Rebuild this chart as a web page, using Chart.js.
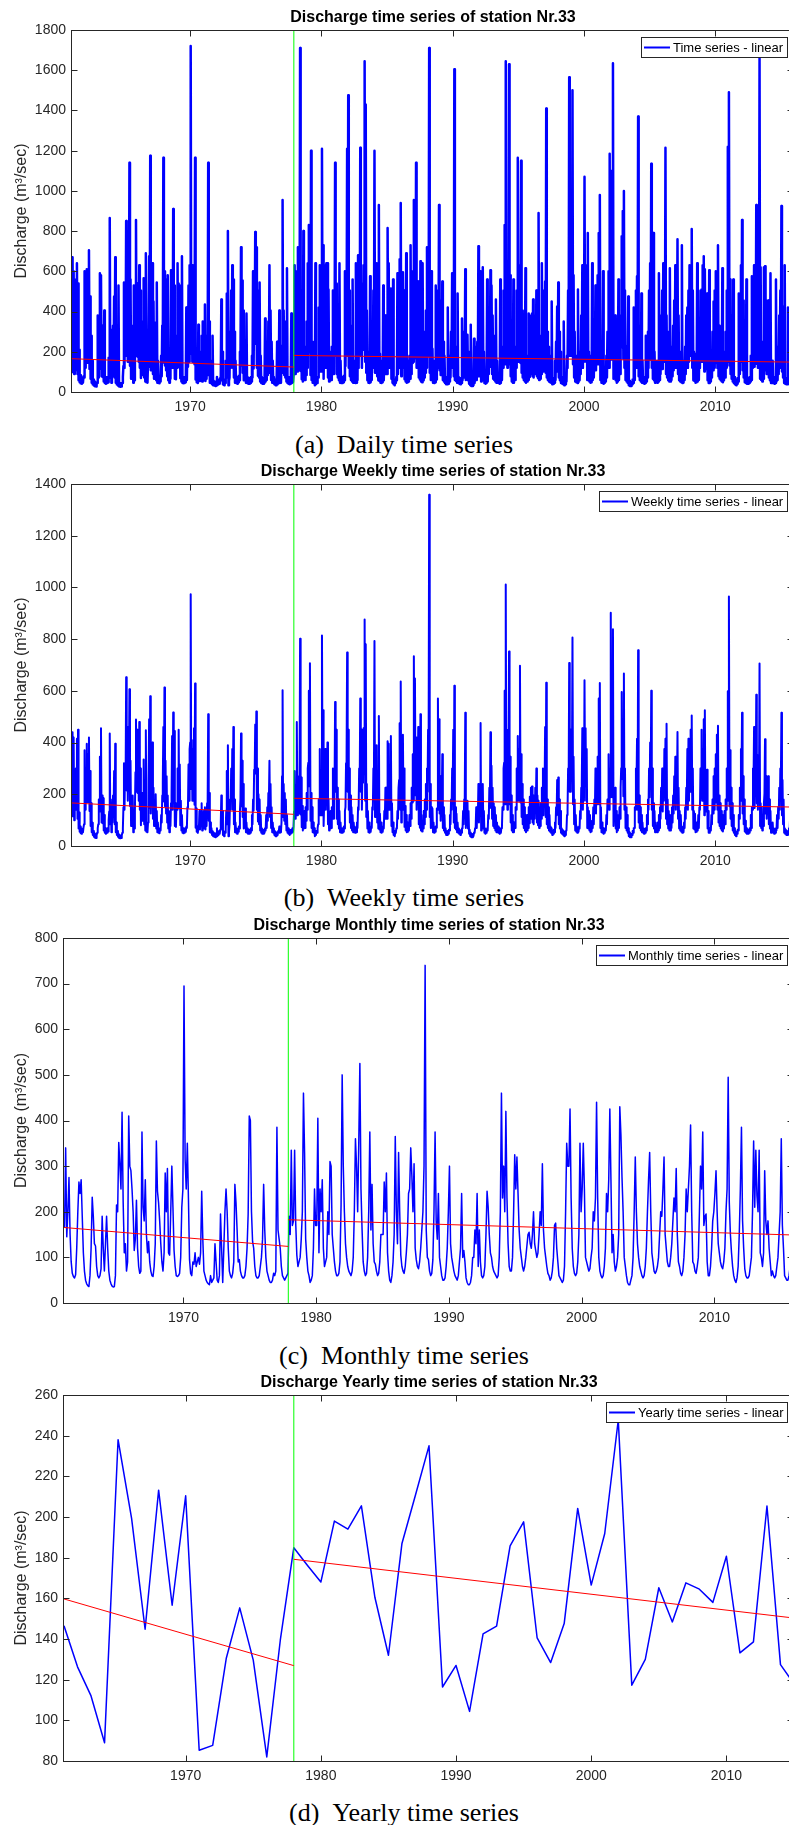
<!DOCTYPE html>
<html lang="en">
<head>
<meta charset="UTF-8">
<title>Discharge time series of station Nr.33</title>
<script src="https://cdn.jsdelivr.net/npm/chart.js@4.4.1/dist/chart.umd.min.js"></script>
<style>
  html, body { margin: 0; padding: 0; background: #fff; }
  body { width: 789px; height: 1825px; overflow: hidden; position: relative; }
  canvas { position: absolute; left: 0; }
  .caption {
    position: absolute; left: 0; width: 808px; text-align: center;
    font-family: "Liberation Serif", "DejaVu Serif", serif; font-size: 26px; line-height: 30px; color: #000;
  }
</style>
</head>
<body>
<canvas id="daily" width="800" height="420" style="top:0px;width:800px;height:420px"></canvas>
<div class="caption" style="top:430px">(a)&ensp;Daily time series</div>
<canvas id="weekly" width="800" height="420" style="top:454px;width:800px;height:420px"></canvas>
<div class="caption" style="top:883px">(b)&ensp;Weekly time series</div>
<canvas id="monthly" width="800" height="423" style="top:908px;width:800px;height:423px"></canvas>
<div class="caption" style="top:1341px">(c)&ensp;Monthly time series</div>
<canvas id="yearly" width="800" height="424" style="top:1365px;width:800px;height:424px"></canvas>
<div class="caption" style="top:1798px">(d)&ensp;Yearly time series</div>

<script>
// values (m3/sec); monthly arrays run Jan 1961 .. Dec 2015, one row per year
const startYear = 1961;
const breakYear = 1977.9;
const decadeTicks = [1970, 1980, 1990, 2000, 2010];

const years = [1961, 1962, 1963, 1964, 1965, 1966, 1967, 1968, 1969, 1970,
  1971, 1972, 1973, 1974, 1975, 1976, 1977, 1978, 1979, 1980,
  1981, 1982, 1983, 1984, 1985, 1986, 1987, 1988, 1989, 1990,
  1991, 1992, 1993, 1994, 1995, 1996, 1997, 1998, 1999, 2000,
  2001, 2002, 2003, 2004, 2005, 2006, 2007, 2008, 2009, 2010,
  2011, 2012, 2013, 2014, 2015];

const yearlyQ = [146.5, 126.3, 112, 89, 238, 199.3, 144.8, 213.2, 156.6, 210.4,
  85.3, 87.7, 130.4, 155.3, 129.6, 82, 139.4, 184.9, 176.3, 168,
  198, 194, 205.5, 160.4, 132, 187, 210.8, 235, 116.4, 127,
  104.4, 142.5, 146.3, 185.8, 197.6, 140.5, 128.4, 147.6, 204.2, 166.5,
  191.9, 247.7, 117.3, 130, 165.2, 148.4, 167.6, 164.5, 158, 180.7,
  133.2, 138.6, 205.4, 127.4, 118];

const monthlyQ = [
  165, 340, 145, 200, 275, 150, 90, 65, 58, 55, 62, 120,
  200, 265, 240, 270, 190, 110, 70, 50, 42, 38, 36, 60,
  120, 232, 190, 130, 125, 80, 60, 55, 60, 75, 190, 120,
  70, 130, 190, 120, 70, 50, 42, 37, 35, 36, 60, 215,
  200, 352, 305, 250, 418, 220, 110, 130, 70, 90, 410, 300,
  290, 250, 200, 115, 140, 225, 120, 80, 65, 70, 375, 210,
  180, 270, 150, 110, 135, 90, 70, 60, 58, 80, 130, 355,
  245, 220, 180, 130, 90, 70, 110, 285, 200, 295, 110, 105,
  200, 300, 210, 115, 80, 60, 58, 60, 65, 100, 210, 250,
  695, 315, 250, 350, 230, 95, 65, 60, 90, 85, 110, 80,
  90, 100, 85, 110, 245, 140, 70, 60, 50, 45, 42, 40,
  60, 45, 50, 55, 130, 90, 50, 45, 60, 195, 120, 45,
  120, 200, 250, 200, 120, 70, 60, 55, 65, 90, 260, 220,
  160, 90, 95, 70, 60, 55, 55, 60, 80, 120, 195, 410,
  400, 200, 135, 120, 80, 60, 55, 55, 60, 80, 100, 140,
  260, 160, 100, 70, 60, 50, 45, 45, 50, 65, 60, 70,
  385, 160, 140, 120, 80, 60, 55, 50, 55, 60, 65, 190,
  150, 335, 170, 180, 335, 175, 105, 80, 90, 100, 140, 200,
  460, 330, 140, 100, 70, 60, 45, 50, 60, 120, 250, 170,
  170, 405, 110, 250, 200, 270, 120, 80, 90, 100, 200, 150,
  310, 300, 150, 120, 90, 70, 60, 60, 65, 90, 215, 500,
  300, 200, 130, 100, 80, 70, 65, 60, 70, 100, 200, 360,
  300, 200, 350, 525, 250, 160, 90, 70, 60, 65, 100, 200,
  375, 160, 260, 130, 90, 85, 70, 60, 65, 90, 150, 150,
  150, 265, 200, 285, 110, 70, 50, 45, 60, 90, 150, 365,
  200, 130, 330, 200, 105, 80, 70, 65, 80, 110, 150, 240,
  250, 340, 280, 200, 305, 120, 95, 80, 75, 90, 120, 160,
  200, 300, 740, 160, 100, 95, 70, 60, 65, 95, 200, 375,
  180, 140, 240, 100, 80, 60, 50, 50, 55, 80, 120, 200,
  300, 130, 100, 85, 70, 60, 55, 50, 60, 90, 120, 240,
  100, 115, 90, 55, 45, 40, 40, 45, 60, 100, 100, 160,
  130, 240, 80, 160, 90, 60, 55, 60, 80, 150, 245, 210,
  150, 110, 100, 80, 70, 65, 60, 55, 60, 100, 200, 460,
  230, 300, 200, 420, 230, 130, 80, 70, 70, 100, 200, 325,
  250, 320, 240, 160, 120, 100, 80, 70, 80, 100, 125, 150,
  155, 130, 120, 150, 200, 130, 115, 100, 110, 150, 200, 170,
  305, 160, 120, 100, 80, 65, 60, 50, 55, 70, 100, 170,
  175, 120, 90, 60, 55, 50, 45, 50, 80, 200, 350, 300,
  300, 425, 230, 120, 80, 65, 60, 65, 90, 150, 350, 200,
  250, 350, 250, 100, 90, 80, 70, 75, 100, 120, 200, 180,
  230, 440, 230, 100, 70, 60, 55, 60, 80, 120, 240, 200,
  270, 425, 270, 110, 150, 90, 70, 80, 100, 150, 430, 370,
  275, 200, 100, 80, 60, 45, 40, 40, 50, 60, 100, 200,
  320, 200, 130, 100, 80, 70, 60, 55, 60, 80, 120, 200,
  270, 330, 200, 110, 90, 70, 65, 70, 80, 100, 150, 200,
  190, 250, 320, 150, 120, 90, 80, 80, 100, 130, 180, 230,
  200, 295, 150, 90, 80, 65, 60, 70, 100, 150, 250, 200,
  250, 300, 390, 200, 90, 85, 70, 65, 80, 100, 200, 300,
  250, 375, 170, 190, 195, 90, 60, 60, 80, 120, 180, 200,
  240, 290, 200, 130, 110, 90, 80, 75, 90, 120, 200, 250,
  495, 220, 150, 110, 80, 60, 50, 45, 55, 80, 150, 250,
  385, 180, 120, 75, 60, 55, 55, 60, 80, 100, 200, 355,
  210, 335, 235, 200, 335, 110, 100, 80, 110, 290, 180, 150,
  180, 120, 90, 60, 70, 60, 55, 60, 80, 100, 150, 200,
  360, 170, 120, 60, 55, 50, 50, 60, 80, 100, 150, 200
];

// highest and lowest daily discharge within each month
const dailyHigh = [
  670, 600, 365, 560, 640, 540, 210, 85, 72, 68, 78, 600,
  505, 610, 600, 705, 475, 280, 155, 62, 52, 47, 45, 380,
  310, 590, 580, 330, 315, 405, 75, 69, 75, 170, 865, 310,
  155, 330, 475, 670, 155, 62, 530, 46, 44, 45, 75, 545,
  505, 850, 550, 800, 1140, 560, 280, 330, 530, 205, 855, 540,
  520, 630, 505, 295, 350, 565, 300, 690, 81, 155, 675, 1175,
  455, 640, 450, 280, 345, 545, 155, 75, 72, 180, 330, 1165,
  600, 560, 455, 580, 200, 155, 605, 510, 910, 530, 280, 265,
  640, 540, 530, 295, 675, 75, 72, 75, 420, 250, 530, 630,
  1720, 570, 630, 630, 1165, 215, 81, 335, 200, 190, 280, 350,
  200, 435, 190, 280, 1140, 350, 155, 75, 280, 56, 52, 50,
  75, 56, 62, 69, 460, 200, 62, 56, 155, 490, 800, 56,
  300, 505, 630, 560, 300, 155, 75, 69, 81, 200, 720, 555,
  405, 200, 215, 390, 75, 69, 69, 75, 180, 600, 490, 795,
  720, 505, 345, 545, 180, 75, 69, 69, 365, 180, 250, 350,
  630, 405, 250, 155, 75, 62, 56, 250, 62, 405, 75, 155,
  955, 405, 350, 300, 615, 75, 69, 62, 390, 75, 81, 630,
  380, 600, 720, 455, 1710, 440, 265, 800, 200, 225, 350, 640,
  830, 595, 1200, 250, 155, 75, 640, 62, 75, 420, 630, 425,
  1210, 730, 280, 630, 640, 640, 510, 180, 200, 225, 505, 380,
  1140, 540, 380, 300, 640, 155, 75, 75, 81, 600, 540, 1210,
  1475, 505, 330, 225, 560, 155, 81, 640, 155, 680, 505, 1215,
  540, 505, 630, 1645, 1430, 405, 200, 155, 575, 81, 225, 505,
  1200, 405, 640, 330, 930, 190, 155, 75, 530, 200, 380, 380,
  815, 640, 505, 515, 280, 560, 62, 56, 75, 590, 380, 660,
  940, 330, 595, 505, 265, 690, 155, 81, 180, 730, 380, 600,
  955, 610, 1140, 505, 550, 300, 650, 180, 640, 200, 300, 405,
  720, 540, 1710, 405, 600, 215, 155, 75, 530, 215, 505, 930,
  455, 350, 550, 250, 180, 75, 62, 420, 69, 180, 300, 590,
  540, 1605, 225, 190, 490, 75, 69, 62, 365, 200, 300, 610,
  225, 285, 200, 69, 335, 50, 50, 265, 75, 225, 250, 725,
  330, 600, 200, 620, 200, 75, 69, 560, 180, 380, 605, 530,
  380, 280, 225, 460, 155, 81, 75, 560, 75, 225, 505, 830,
  1645, 540, 505, 1630, 580, 330, 180, 560, 155, 225, 505, 1165,
  630, 575, 1150, 405, 300, 250, 615, 155, 180, 390, 315, 380,
  390, 460, 300, 380, 505, 330, 890, 250, 280, 640, 505, 425,
  550, 1410, 300, 225, 180, 81, 450, 62, 69, 155, 250, 425,
  545, 300, 200, 75, 69, 350, 56, 62, 180, 505, 1565, 790,
  600, 1500, 580, 300, 180, 81, 510, 81, 200, 380, 630, 505,
  1070, 630, 630, 790, 200, 180, 155, 640, 225, 300, 530, 455,
  580, 790, 980, 225, 155, 600, 69, 75, 180, 300, 600, 1185,
  1100, 765, 1635, 280, 380, 200, 155, 560, 225, 380, 775, 900,
  1000, 505, 225, 180, 475, 56, 50, 50, 62, 420, 225, 505,
  575, 1370, 330, 225, 490, 155, 75, 69, 280, 180, 300, 505,
  640, 1135, 505, 790, 200, 155, 81, 155, 590, 225, 380, 505,
  640, 630, 1215, 380, 300, 200, 615, 180, 225, 330, 455, 630,
  505, 760, 380, 200, 180, 730, 75, 155, 225, 380, 420, 505,
  630, 540, 810, 505, 200, 190, 155, 640, 180, 225, 505, 510,
  630, 675, 610, 475, 490, 200, 605, 75, 180, 300, 450, 505,
  600, 520, 730, 330, 280, 200, 615, 170, 200, 300, 505, 1220,
  1490, 560, 380, 280, 560, 75, 62, 56, 69, 490, 380, 630,
  855, 455, 300, 170, 560, 69, 69, 75, 180, 575, 505, 630,
  530, 930, 595, 505, 1660, 620, 250, 180, 620, 625, 455, 380,
  455, 300, 590, 75, 155, 75, 69, 560, 180, 225, 380, 505,
  925, 425, 300, 630, 69, 62, 420, 75, 180, 225, 380, 505
];

const dailyLow = [
  100, 160, 90, 110, 140, 90, 58, 48, 43, 41, 46, 72,
  120, 160, 145, 160, 115, 66, 46, 38, 32, 29, 27, 45,
  72, 140, 115, 78, 75, 52, 45, 41, 45, 49, 114, 72,
  46, 78, 114, 72, 46, 38, 32, 28, 26, 27, 45, 129,
  120, 210, 180, 150, 250, 130, 66, 78, 46, 58, 245, 180,
  175, 150, 120, 70, 84, 135, 72, 52, 49, 46, 225, 126,
  108, 162, 90, 66, 81, 58, 46, 45, 43, 52, 78, 213,
  147, 132, 108, 78, 58, 46, 66, 171, 120, 177, 66, 63,
  120, 180, 126, 69, 52, 45, 43, 45, 49, 60, 126, 150,
  250, 190, 150, 210, 138, 62, 49, 45, 58, 55, 66, 52,
  58, 60, 55, 66, 147, 84, 46, 45, 38, 34, 32, 30,
  45, 34, 38, 41, 78, 58, 38, 34, 45, 117, 72, 34,
  72, 120, 150, 120, 72, 46, 45, 41, 49, 58, 156, 132,
  96, 58, 62, 46, 45, 41, 41, 45, 52, 72, 117, 246,
  240, 120, 81, 72, 52, 45, 41, 41, 45, 52, 60, 84,
  156, 96, 60, 46, 45, 38, 34, 34, 38, 49, 45, 46,
  230, 96, 84, 72, 52, 45, 41, 38, 41, 45, 49, 114,
  90, 200, 102, 108, 200, 105, 63, 52, 58, 60, 84, 120,
  276, 198, 84, 60, 46, 45, 34, 38, 45, 72, 150, 102,
  102, 243, 66, 150, 120, 162, 72, 52, 58, 60, 120, 90,
  186, 180, 90, 72, 58, 46, 45, 45, 49, 58, 129, 300,
  180, 120, 78, 60, 52, 46, 49, 45, 46, 60, 120, 216,
  180, 120, 210, 315, 150, 96, 58, 46, 45, 49, 60, 120,
  225, 96, 156, 78, 58, 55, 46, 45, 49, 58, 90, 90,
  90, 159, 120, 171, 66, 46, 38, 34, 45, 58, 90, 219,
  120, 78, 198, 120, 63, 52, 46, 49, 52, 66, 90, 144,
  150, 204, 168, 120, 183, 72, 62, 52, 49, 58, 72, 96,
  120, 180, 300, 96, 60, 62, 46, 45, 49, 62, 120, 225,
  108, 84, 144, 60, 52, 45, 38, 38, 41, 52, 72, 120,
  180, 78, 60, 55, 46, 45, 41, 38, 45, 58, 72, 144,
  60, 69, 58, 41, 34, 30, 30, 34, 45, 60, 60, 96,
  78, 144, 52, 96, 58, 45, 41, 45, 52, 90, 147, 126,
  90, 66, 60, 52, 46, 49, 45, 41, 45, 60, 120, 276,
  138, 180, 120, 252, 138, 78, 52, 46, 46, 60, 120, 195,
  150, 192, 144, 96, 72, 60, 52, 46, 52, 60, 75, 90,
  93, 78, 72, 90, 120, 78, 69, 60, 66, 90, 120, 102,
  183, 96, 72, 60, 52, 49, 45, 38, 41, 46, 60, 102,
  105, 72, 58, 45, 41, 38, 34, 38, 52, 120, 210, 180,
  180, 255, 138, 72, 52, 49, 45, 49, 58, 90, 210, 120,
  150, 210, 150, 60, 58, 52, 46, 49, 60, 72, 120, 108,
  138, 264, 138, 60, 46, 45, 41, 45, 52, 72, 144, 120,
  162, 255, 162, 66, 90, 58, 46, 52, 60, 90, 258, 222,
  165, 120, 60, 52, 45, 34, 30, 30, 38, 45, 60, 120,
  192, 120, 78, 60, 52, 46, 45, 41, 45, 52, 72, 120,
  162, 198, 120, 66, 58, 46, 49, 46, 52, 60, 90, 120,
  114, 150, 192, 90, 72, 58, 52, 52, 60, 78, 108, 138,
  120, 177, 90, 58, 52, 49, 45, 46, 60, 90, 150, 120,
  150, 180, 234, 120, 58, 55, 46, 49, 52, 60, 120, 180,
  150, 225, 102, 114, 117, 58, 45, 45, 52, 72, 108, 120,
  144, 174, 120, 78, 66, 58, 52, 49, 58, 72, 120, 150,
  200, 132, 90, 66, 52, 45, 38, 34, 41, 52, 90, 150,
  231, 108, 72, 49, 45, 41, 41, 45, 52, 60, 120, 213,
  126, 201, 141, 120, 201, 66, 60, 52, 66, 174, 108, 90,
  108, 72, 58, 45, 46, 45, 41, 45, 52, 60, 90, 120,
  216, 102, 72, 45, 41, 38, 38, 45, 52, 60, 90, 120
];

// highest and lowest weekly mean within each month
const weeklyHigh = [
  440, 420, 220, 300, 415, 450, 130, 75, 67, 63, 71, 370,
  300, 395, 355, 420, 290, 165, 90, 58, 48, 44, 41, 69,
  180, 345, 455, 195, 185, 120, 69, 63, 69, 98, 435, 180,
  91, 195, 290, 395, 91, 58, 48, 43, 40, 41, 69, 320,
  300, 653, 460, 375, 606, 330, 165, 195, 91, 135, 489, 450,
  430, 480, 300, 175, 205, 335, 180, 448, 75, 91, 490, 579,
  270, 400, 225, 165, 200, 135, 91, 69, 67, 120, 195, 460,
  613, 330, 270, 195, 135, 91, 165, 425, 516, 445, 165, 155,
  300, 450, 315, 175, 120, 69, 67, 69, 75, 150, 315, 375,
  974, 410, 375, 455, 628, 145, 75, 69, 135, 125, 165, 120,
  135, 150, 125, 165, 510, 205, 91, 69, 58, 52, 48, 46,
  69, 52, 58, 63, 195, 135, 58, 52, 69, 290, 390, 52,
  180, 300, 375, 460, 180, 91, 69, 63, 75, 135, 435, 330,
  240, 135, 145, 91, 69, 63, 63, 69, 120, 180, 295, 470,
  520, 300, 200, 180, 120, 69, 63, 63, 69, 120, 150, 205,
  330, 240, 150, 91, 69, 58, 52, 52, 58, 75, 69, 91,
  602, 240, 205, 180, 120, 69, 63, 58, 63, 69, 75, 290,
  225, 480, 255, 270, 802, 265, 155, 120, 135, 150, 205, 300,
  600, 707, 205, 150, 91, 69, 52, 58, 69, 180, 375, 255,
  814, 525, 165, 375, 300, 400, 180, 120, 135, 150, 300, 225,
  557, 450, 225, 180, 135, 91, 69, 69, 75, 135, 320, 748,
  450, 300, 195, 150, 120, 91, 75, 69, 91, 150, 300, 570,
  450, 300, 455, 876, 780, 240, 135, 91, 69, 75, 150, 300,
  793, 240, 390, 195, 503, 125, 91, 69, 75, 135, 225, 225,
  405, 395, 300, 425, 165, 91, 58, 52, 69, 135, 225, 475,
  636, 195, 430, 300, 155, 120, 91, 75, 120, 165, 225, 355,
  734, 648, 420, 300, 460, 180, 510, 120, 98, 135, 180, 240,
  300, 450, 1358, 240, 150, 145, 91, 69, 75, 145, 570, 490,
  270, 205, 355, 150, 120, 69, 58, 58, 63, 120, 180, 300,
  450, 620, 150, 125, 91, 69, 63, 58, 69, 135, 180, 515,
  150, 175, 135, 63, 52, 46, 46, 52, 69, 150, 150, 240,
  195, 476, 120, 240, 135, 69, 63, 69, 120, 225, 440, 310,
  225, 165, 150, 120, 91, 75, 69, 63, 69, 150, 300, 600,
  1011, 450, 300, 752, 345, 195, 120, 91, 91, 150, 300, 425,
  375, 697, 355, 240, 180, 150, 120, 91, 120, 150, 190, 225,
  230, 195, 180, 225, 300, 195, 175, 150, 165, 225, 300, 255,
  460, 631, 180, 150, 120, 75, 69, 58, 63, 91, 150, 255,
  265, 180, 135, 69, 63, 58, 52, 58, 120, 300, 708, 450,
  450, 806, 345, 180, 120, 75, 69, 75, 135, 225, 455, 300,
  641, 455, 375, 150, 135, 120, 91, 98, 150, 180, 300, 270,
  345, 570, 630, 150, 91, 69, 63, 69, 120, 180, 355, 300,
  902, 550, 838, 165, 225, 135, 91, 120, 150, 225, 596, 480,
  667, 300, 150, 120, 69, 52, 46, 46, 58, 69, 150, 300,
  415, 757, 195, 150, 120, 91, 69, 63, 69, 120, 180, 300,
  400, 600, 300, 165, 135, 91, 75, 91, 120, 150, 225, 300,
  280, 375, 415, 473, 180, 135, 120, 120, 150, 195, 270, 345,
  300, 441, 225, 135, 120, 75, 69, 91, 150, 225, 375, 415,
  375, 450, 505, 300, 135, 125, 91, 75, 120, 150, 300, 450,
  375, 490, 525, 280, 295, 135, 69, 69, 120, 180, 270, 300,
  355, 430, 465, 195, 165, 135, 120, 98, 135, 180, 300, 598,
  965, 370, 225, 165, 120, 69, 58, 52, 63, 120, 225, 375,
  515, 270, 180, 98, 69, 63, 63, 69, 120, 150, 300, 460,
  315, 585, 350, 300, 706, 165, 150, 120, 165, 413, 270, 225,
  270, 180, 135, 69, 91, 69, 63, 69, 120, 150, 225, 300,
  515, 255, 180, 69, 63, 58, 58, 69, 120, 150, 225, 300
];

const weeklyLow = [
  115, 220, 100, 140, 190, 105, 68, 55, 49, 47, 53, 84,
  140, 185, 170, 190, 135, 77, 53, 43, 36, 32, 31, 51,
  84, 162, 133, 91, 88, 60, 51, 47, 51, 56, 133, 84,
  53, 91, 133, 84, 53, 43, 36, 31, 30, 31, 51, 150,
  140, 245, 215, 175, 290, 155, 77, 90, 53, 68, 285, 210,
  205, 175, 140, 80, 98, 158, 84, 60, 55, 53, 260, 147,
  126, 189, 105, 77, 95, 68, 53, 51, 49, 60, 91, 250,
  172, 154, 126, 91, 68, 53, 77, 200, 140, 205, 77, 74,
  140, 210, 147, 80, 60, 51, 49, 51, 55, 70, 147, 175,
  400, 220, 175, 245, 160, 71, 55, 51, 68, 64, 77, 60,
  68, 75, 64, 77, 172, 98, 53, 51, 43, 38, 36, 34,
  51, 38, 43, 47, 91, 68, 43, 38, 51, 137, 84, 38,
  84, 140, 175, 140, 84, 53, 51, 47, 55, 68, 182, 154,
  112, 68, 71, 53, 51, 47, 47, 51, 60, 84, 137, 287,
  280, 140, 95, 84, 60, 51, 47, 47, 51, 60, 70, 98,
  182, 112, 70, 53, 51, 43, 38, 38, 43, 55, 51, 53,
  270, 112, 98, 84, 60, 51, 47, 43, 47, 51, 55, 133,
  105, 235, 119, 126, 235, 122, 73, 60, 68, 70, 98, 140,
  322, 231, 98, 70, 53, 51, 38, 43, 51, 84, 175, 119,
  119, 283, 77, 175, 140, 189, 84, 60, 68, 70, 140, 105,
  217, 210, 105, 84, 68, 53, 51, 51, 55, 68, 150, 350,
  210, 140, 91, 70, 60, 53, 55, 51, 53, 70, 140, 252,
  210, 140, 245, 367, 175, 112, 68, 53, 51, 55, 70, 140,
  262, 112, 182, 91, 68, 64, 53, 51, 55, 68, 105, 105,
  105, 185, 140, 200, 77, 53, 43, 38, 51, 68, 105, 255,
  140, 91, 231, 140, 74, 60, 53, 55, 60, 77, 105, 168,
  175, 238, 196, 140, 213, 84, 71, 60, 56, 68, 84, 112,
  140, 210, 400, 112, 70, 71, 53, 51, 55, 71, 140, 262,
  126, 98, 168, 70, 60, 51, 43, 43, 47, 60, 84, 140,
  210, 91, 70, 64, 53, 51, 47, 43, 51, 68, 84, 168,
  70, 80, 68, 47, 38, 34, 34, 38, 51, 70, 70, 112,
  91, 168, 60, 112, 68, 51, 47, 51, 60, 105, 172, 147,
  105, 77, 70, 60, 53, 55, 51, 47, 51, 70, 140, 322,
  161, 210, 140, 294, 161, 91, 60, 53, 53, 70, 140, 228,
  175, 224, 168, 112, 84, 70, 60, 53, 60, 70, 88, 105,
  108, 91, 84, 105, 140, 91, 80, 70, 77, 105, 140, 119,
  213, 112, 84, 70, 60, 55, 51, 43, 47, 53, 70, 119,
  122, 84, 68, 51, 47, 43, 38, 43, 60, 140, 245, 210,
  210, 297, 161, 84, 60, 55, 51, 55, 68, 105, 245, 140,
  175, 245, 175, 70, 68, 60, 53, 56, 70, 84, 140, 126,
  161, 308, 161, 70, 53, 51, 47, 51, 60, 84, 168, 140,
  189, 297, 189, 77, 105, 68, 53, 60, 70, 105, 301, 259,
  192, 140, 70, 60, 51, 38, 34, 34, 43, 51, 70, 140,
  224, 140, 91, 70, 60, 53, 51, 47, 51, 60, 84, 140,
  189, 231, 140, 77, 68, 53, 55, 53, 60, 70, 105, 140,
  133, 175, 224, 105, 84, 68, 60, 60, 70, 91, 126, 161,
  140, 206, 105, 68, 60, 55, 51, 53, 70, 105, 175, 140,
  175, 210, 273, 140, 68, 64, 53, 55, 60, 70, 140, 210,
  175, 262, 119, 133, 136, 68, 51, 51, 60, 84, 126, 140,
  168, 203, 140, 91, 77, 68, 60, 56, 68, 84, 140, 175,
  300, 154, 105, 77, 60, 51, 43, 38, 47, 60, 105, 175,
  269, 126, 84, 56, 51, 47, 47, 51, 60, 70, 140, 248,
  147, 234, 164, 140, 234, 77, 70, 60, 77, 203, 126, 105,
  126, 84, 68, 51, 53, 51, 47, 51, 60, 70, 105, 140,
  252, 119, 84, 51, 47, 43, 43, 51, 60, 70, 105, 140
];

// linear trends before and after the break (two segments each)
const trendYears = [1961, 1977.9, 1977.9, 2016];
const dailyTrend = [165.5, 124, 182, 148.5];
const weeklyTrend = [166.5, 122.5, 184.5, 150.5];
const monthlyTrend = [165.5, 124, 182.5, 149];
const yearlyTrendYears = [1961, 1978, 1978, 2015];
const yearlyTrend = [159.7, 126.9, 179.2, 150.3];

const FONT = '"Liberation Sans", Arial, Helvetica, sans-serif';
const INK = '#262626';

function monthTime(m, part) {
  return startYear + (m + part) / 12;
}

// low at the start of each month, peak in the middle
function spikes(high, low) {
  const pts = [];
  for (let m = 0; m < high.length; m++) {
    pts.push({x: monthTime(m, 0), y: low[m]});
    pts.push({x: monthTime(m, 0.5), y: high[m]});
  }
  return pts;
}

const matlabAxes = {
  id: 'matlabAxes',
  afterDatasetsDraw(chart) {
    const {ctx, chartArea: a} = chart;
    const xs = chart.scales.x, ys = chart.scales.y;
    ctx.save();
    ctx.strokeStyle = INK;
    ctx.lineWidth = 1;
    const L = Math.round(a.left) - 0.5, T = Math.round(a.top) + 0.5;
    const R = Math.round(a.right) - 0.5, B = Math.round(a.bottom) + 0.5;
    ctx.strokeRect(L, T, R - L, B - T);
    ctx.beginPath();
    xs.ticks.forEach(t => {
      const px = Math.round(xs.getPixelForValue(t.value)) + 0.5;
      ctx.moveTo(px, B); ctx.lineTo(px, B - 6);
      ctx.moveTo(px, T); ctx.lineTo(px, T + 6);
    });
    ys.ticks.forEach(t => {
      const py = Math.round(ys.getPixelForValue(t.value)) + 0.5;
      ctx.moveTo(L, py); ctx.lineTo(L + 6, py);
      ctx.moveTo(R, py); ctx.lineTo(R - 6, py);
    });
    ctx.stroke();

    // legend box, top right inside the axes
    const label = chart.data.datasets[0].label;
    ctx.font = '13px ' + FONT;
    const tw = ctx.measureText(label).width;
    const w = Math.round(tw + 36), h = 20;
    const bx = Math.round(a.right - 7 - w), by = Math.round(a.top + 7);
    ctx.fillStyle = '#fff';
    ctx.fillRect(bx, by, w, h);
    ctx.strokeStyle = INK;
    ctx.strokeRect(bx + 0.5, by + 0.5, w, h);
    ctx.strokeStyle = '#0000ff';
    ctx.lineWidth = 2;
    ctx.beginPath();
    ctx.moveTo(bx + 3, by + h / 2 + 0.5);
    ctx.lineTo(bx + 29, by + h / 2 + 0.5);
    ctx.stroke();
    ctx.fillStyle = '#000';
    ctx.textAlign = 'left';
    ctx.textBaseline = 'middle';
    ctx.fillText(label, bx + 32, by + h / 2 + 1);
    ctx.restore();
  }
};

function drawPanel(id, p) {
  const seg1 = [{x: p.trendT[0], y: p.trendQ[0]}, {x: p.trendT[1], y: p.trendQ[1]}];
  const seg2 = [{x: p.trendT[2], y: p.trendQ[2]}, {x: p.trendT[3], y: p.trendQ[3]}];
  return new Chart(document.getElementById(id), {
    type: 'line',
    data: {
      datasets: [
        {label: p.label, data: p.points, borderColor: '#0000ff', borderWidth: p.lineWidth, order: 3},
        {label: 'break', data: [{x: p.breakX, y: p.yMin}, {x: p.breakX, y: p.yMax}],
          borderColor: '#00ff00', borderWidth: 1, order: 2},
        {label: 'trend before', data: seg1, borderColor: '#ff0000', borderWidth: 1, order: 1},
        {label: 'trend after', data: seg2, borderColor: '#ff0000', borderWidth: 1, order: 1}
      ]
    },
    options: {
      responsive: false,
      maintainAspectRatio: false,
      devicePixelRatio: 1,
      animation: false,
      events: [],
      elements: {
        point: {radius: 0},
        line: {tension: 0, fill: false, borderJoinStyle: 'round'}
      },
      layout: {padding: {top: 3.8, right: 6, bottom: 0, left: 0}},
      plugins: {
        legend: {display: false},
        tooltip: {enabled: false},
        title: {
          display: true, text: p.title, fullSize: false, color: '#000',
          font: {family: FONT, size: 16, weight: 'bold'},
          padding: {top: 4, bottom: 3}
        }
      },
      scales: {
        x: {
          type: 'linear', min: 1961, max: p.xMax,
          afterBuildTicks: s => { s.ticks = decadeTicks.map(v => ({value: v})); },
          afterFit: s => { s.height = 28; },
          grid: {display: false, drawTicks: false},
          border: {display: false},
          ticks: {color: INK, font: {family: FONT, size: 14}, padding: 7,
            maxRotation: 0, autoSkip: false, callback: v => String(v)}
        },
        y: {
          type: 'linear', min: p.yMin, max: p.yMax,
          afterFit: s => { s.width = p.axisLeft; },
          grid: {display: false, drawTicks: false},
          border: {display: false},
          ticks: {color: INK, font: {family: FONT, size: 14}, padding: 6,
            stepSize: p.yStep, callback: v => String(v)},
          title: {display: true, text: 'Discharge (m³/sec)', color: INK,
            font: {family: FONT, size: 16}, padding: {top: 12, bottom: 0}}
        }
      }
    },
    plugins: [matlabAxes]
  });
}

drawPanel('daily', {
  title: 'Discharge time series of station Nr.33',
  label: 'Time series - linear',
  points: spikes(dailyHigh, dailyLow), lineWidth: 2.5,
  yMin: 0, yMax: 1800, yStep: 200, xMax: 2016, axisLeft: 72,
  breakX: breakYear, trendT: trendYears, trendQ: dailyTrend
});

drawPanel('weekly', {
  title: 'Discharge Weekly time series of station Nr.33',
  label: 'Weekly time series - linear',
  points: spikes(weeklyHigh, weeklyLow), lineWidth: 2,
  yMin: 0, yMax: 1400, yStep: 200, xMax: 2016, axisLeft: 72,
  breakX: breakYear, trendT: trendYears, trendQ: weeklyTrend
});

drawPanel('monthly', {
  title: 'Discharge Monthly time series of station Nr.33',
  label: 'Monthly time series - linear',
  points: monthlyQ.map((q, m) => ({x: monthTime(m, 0.5), y: q})), lineWidth: 1.5,
  yMin: 0, yMax: 800, yStep: 100, xMax: 2016, axisLeft: 64,
  breakX: breakYear, trendT: trendYears, trendQ: monthlyTrend
});

drawPanel('yearly', {
  title: 'Discharge Yearly time series of station Nr.33',
  label: 'Yearly time series - linear',
  points: years.map((yr, i) => ({x: yr, y: yearlyQ[i]})), lineWidth: 1.5,
  yMin: 80, yMax: 260, yStep: 20, xMax: 2015, axisLeft: 64,
  breakX: 1978, trendT: yearlyTrendYears, trendQ: yearlyTrend
});
</script>
</body>
</html>
